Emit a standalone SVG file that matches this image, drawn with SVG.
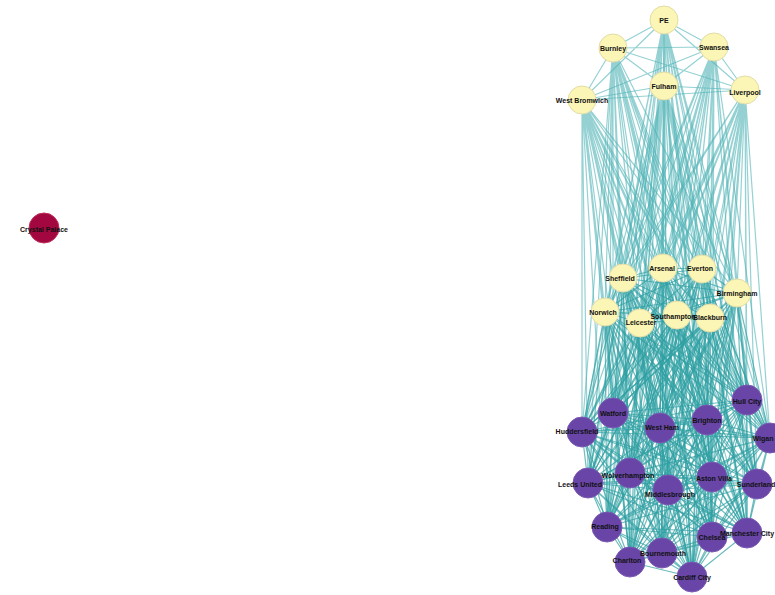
<svg xmlns="http://www.w3.org/2000/svg" width="775" height="595" viewBox="0 0 775 595">
<style>
.e{fill:none;stroke:#2f9fa2;stroke-width:1.2;stroke-opacity:.7}
.et{fill:none;stroke:#4fb3b6;stroke-width:1.2;stroke-opacity:.6}
.y{fill:#fbf6b6;stroke:#e2dca8;stroke-width:1}
.p{fill:#6845a6;stroke:#7a5ab4;stroke-width:1}
.r{fill:#a3073f;stroke:#c0305c;stroke-width:1}
text{font-family:"Liberation Sans",Arial,sans-serif;font-size:7px;font-weight:bold;fill:#111;text-anchor:middle;dominant-baseline:central}
</style>
<rect width="775" height="595" fill="#fff"/>
<g id="connectors">
<path class="et" d="M664 20L613 48M664 20L714 47M664 20L664 86M664 20L582 100M664 20L745 90M613 48L714 47M613 48L664 86M613 48L582 100M613 48L745 90M714 47L664 86M714 47L745 90M714 47L582 100M664 86L582 100M664 86L745 90M582 100L745 90"/>
<path class="et" d="M664 20L623 278M664 20L663 268M664 20L702 269M664 20L737 293M664 20L605 312M664 20L640 323M664 20L677 315M664 20L710 318M664 20L613 413M664 20L582 432M664 20L660 428M664 20L707 420M664 20L747 400M664 20L770 438M664 20L588 483M664 20L630 473M664 20L668 490M664 20L712 477M664 20L757 484M664 20L607 527M664 20L712 537M664 20L747 533M664 20L630 562M664 20L662 553M664 20L692 577"/>
<path class="et" d="M613 48L623 278M613 48L663 268M613 48L702 269M613 48L737 293M613 48L605 312M613 48L640 323M613 48L677 315M613 48L710 318M613 48L613 413M613 48L582 432M613 48L660 428M613 48L707 420M613 48L747 400M613 48L770 438M613 48L588 483M613 48L630 473M613 48L668 490M613 48L712 477M613 48L757 484M613 48L607 527M613 48L712 537M613 48L747 533M613 48L630 562M613 48L662 553M613 48L692 577"/>
<path class="et" d="M714 47L623 278M714 47L663 268M714 47L702 269M714 47L737 293M714 47L605 312M714 47L640 323M714 47L677 315M714 47L710 318M714 47L613 413M714 47L582 432M714 47L660 428M714 47L707 420M714 47L747 400M714 47L770 438M714 47L588 483M714 47L630 473M714 47L668 490M714 47L712 477M714 47L757 484M714 47L607 527M714 47L712 537M714 47L747 533M714 47L630 562M714 47L662 553M714 47L692 577"/>
<path class="et" d="M664 86L623 278M664 86L663 268M664 86L702 269M664 86L737 293M664 86L605 312M664 86L640 323M664 86L677 315M664 86L710 318M664 86L613 413M664 86L582 432M664 86L660 428M664 86L707 420M664 86L747 400M664 86L770 438M664 86L588 483M664 86L630 473M664 86L668 490M664 86L712 477M664 86L757 484M664 86L607 527M664 86L712 537M664 86L747 533M664 86L630 562M664 86L662 553M664 86L692 577"/>
<path class="et" d="M582 100L623 278M582 100L663 268M582 100L702 269M582 100L737 293M582 100L605 312M582 100L640 323M582 100L677 315M582 100L710 318M582 100L613 413M582 100L582 432M582 100L660 428M582 100L707 420M582 100L747 400M582 100L770 438M582 100L588 483M582 100L630 473M582 100L668 490M582 100L712 477M582 100L757 484M582 100L607 527M582 100L712 537M582 100L747 533M582 100L630 562M582 100L662 553M582 100L692 577"/>
<path class="et" d="M745 90L623 278M745 90L663 268M745 90L702 269M745 90L737 293M745 90L605 312M745 90L640 323M745 90L677 315M745 90L710 318M745 90L613 413M745 90L582 432M745 90L660 428M745 90L707 420M745 90L747 400M745 90L770 438M745 90L588 483M745 90L630 473M745 90L668 490M745 90L712 477M745 90L757 484M745 90L607 527M745 90L712 537M745 90L747 533M745 90L630 562M745 90L662 553M745 90L692 577"/>
<path class="e" d="M623 278L663 268M623 278L702 269M623 278L737 293M623 278L605 312M623 278L640 323M623 278L677 315M623 278L710 318M623 278L613 413M623 278L582 432M623 278L660 428M623 278L707 420M623 278L747 400M623 278L770 438M623 278L588 483M623 278L630 473M623 278L668 490M623 278L712 477M623 278L757 484M623 278L607 527M623 278L712 537M623 278L747 533M623 278L630 562M623 278L662 553M623 278L692 577"/>
<path class="e" d="M663 268L702 269M663 268L737 293M663 268L605 312M663 268L640 323M663 268L677 315M663 268L710 318M663 268L613 413M663 268L582 432M663 268L660 428M663 268L707 420M663 268L747 400M663 268L770 438M663 268L588 483M663 268L630 473M663 268L668 490M663 268L712 477M663 268L757 484M663 268L607 527M663 268L712 537M663 268L747 533M663 268L630 562M663 268L662 553M663 268L692 577"/>
<path class="e" d="M702 269L737 293M702 269L605 312M702 269L640 323M702 269L677 315M702 269L710 318M702 269L613 413M702 269L582 432M702 269L660 428M702 269L707 420M702 269L747 400M702 269L770 438M702 269L588 483M702 269L630 473M702 269L668 490M702 269L712 477M702 269L757 484M702 269L607 527M702 269L712 537M702 269L747 533M702 269L630 562M702 269L662 553M702 269L692 577"/>
<path class="e" d="M737 293L605 312M737 293L640 323M737 293L677 315M737 293L710 318M737 293L613 413M737 293L582 432M737 293L660 428M737 293L707 420M737 293L747 400M737 293L770 438M737 293L588 483M737 293L630 473M737 293L668 490M737 293L712 477M737 293L757 484M737 293L607 527M737 293L712 537M737 293L747 533M737 293L630 562M737 293L662 553M737 293L692 577"/>
<path class="e" d="M605 312L640 323M605 312L677 315M605 312L710 318M605 312L613 413M605 312L582 432M605 312L660 428M605 312L707 420M605 312L747 400M605 312L770 438M605 312L588 483M605 312L630 473M605 312L668 490M605 312L712 477M605 312L757 484M605 312L607 527M605 312L712 537M605 312L747 533M605 312L630 562M605 312L662 553M605 312L692 577"/>
<path class="e" d="M640 323L677 315M640 323L710 318M640 323L613 413M640 323L582 432M640 323L660 428M640 323L707 420M640 323L747 400M640 323L770 438M640 323L588 483M640 323L630 473M640 323L668 490M640 323L712 477M640 323L757 484M640 323L607 527M640 323L712 537M640 323L747 533M640 323L630 562M640 323L662 553M640 323L692 577"/>
<path class="e" d="M677 315L710 318M677 315L613 413M677 315L582 432M677 315L660 428M677 315L707 420M677 315L747 400M677 315L770 438M677 315L588 483M677 315L630 473M677 315L668 490M677 315L712 477M677 315L757 484M677 315L607 527M677 315L712 537M677 315L747 533M677 315L630 562M677 315L662 553M677 315L692 577"/>
<path class="e" d="M710 318L613 413M710 318L582 432M710 318L660 428M710 318L707 420M710 318L747 400M710 318L770 438M710 318L588 483M710 318L630 473M710 318L668 490M710 318L712 477M710 318L757 484M710 318L607 527M710 318L712 537M710 318L747 533M710 318L630 562M710 318L662 553M710 318L692 577"/>
<path class="e" d="M613 413L582 432M613 413L660 428M613 413L707 420M613 413L747 400M613 413L770 438M613 413L588 483M613 413L630 473M613 413L668 490M613 413L712 477M613 413L757 484M613 413L607 527M613 413L712 537M613 413L747 533M613 413L630 562M613 413L662 553M613 413L692 577"/>
<path class="e" d="M582 432L660 428M582 432L707 420M582 432L747 400M582 432L770 438M582 432L588 483M582 432L630 473M582 432L668 490M582 432L712 477M582 432L757 484M582 432L607 527M582 432L712 537M582 432L747 533M582 432L630 562M582 432L662 553M582 432L692 577"/>
<path class="e" d="M660 428L707 420M660 428L747 400M660 428L770 438M660 428L588 483M660 428L630 473M660 428L668 490M660 428L712 477M660 428L757 484M660 428L607 527M660 428L712 537M660 428L747 533M660 428L630 562M660 428L662 553M660 428L692 577"/>
<path class="e" d="M707 420L747 400M707 420L770 438M707 420L588 483M707 420L630 473M707 420L668 490M707 420L712 477M707 420L757 484M707 420L607 527M707 420L712 537M707 420L747 533M707 420L630 562M707 420L662 553M707 420L692 577"/>
<path class="e" d="M747 400L770 438M747 400L588 483M747 400L630 473M747 400L668 490M747 400L712 477M747 400L757 484M747 400L607 527M747 400L712 537M747 400L747 533M747 400L630 562M747 400L662 553M747 400L692 577"/>
<path class="e" d="M770 438L588 483M770 438L630 473M770 438L668 490M770 438L712 477M770 438L757 484M770 438L607 527M770 438L712 537M770 438L747 533M770 438L630 562M770 438L662 553M770 438L692 577"/>
<path class="e" d="M588 483L630 473M588 483L668 490M588 483L712 477M588 483L757 484M588 483L607 527M588 483L712 537M588 483L747 533M588 483L630 562M588 483L662 553M588 483L692 577"/>
<path class="e" d="M630 473L668 490M630 473L712 477M630 473L757 484M630 473L607 527M630 473L712 537M630 473L747 533M630 473L630 562M630 473L662 553M630 473L692 577"/>
<path class="e" d="M668 490L712 477M668 490L757 484M668 490L607 527M668 490L712 537M668 490L747 533M668 490L630 562M668 490L662 553M668 490L692 577"/>
<path class="e" d="M712 477L757 484M712 477L607 527M712 477L712 537M712 477L747 533M712 477L630 562M712 477L662 553M712 477L692 577"/>
<path class="e" d="M757 484L607 527M757 484L712 537M757 484L747 533M757 484L630 562M757 484L662 553M757 484L692 577"/>
<path class="e" d="M607 527L712 537M607 527L747 533M607 527L630 562M607 527L662 553M607 527L692 577M712 537L747 533M712 537L630 562M712 537L662 553M712 537L692 577M747 533L630 562M747 533L662 553M747 533L692 577M630 562L662 553M630 562L692 577M662 553L692 577"/>
</g>
<g id="node-crystal-palace"><circle class="r" cx="44" cy="228" r="15"/><text x="44" y="229">Crystal Palace</text></g>
<g id="node-pe"><circle class="y" cx="664" cy="20" r="14"/><text x="664" y="20">PE</text></g>
<g id="node-burnley"><circle class="y" cx="613" cy="48" r="14"/><text x="613" y="48">Burnley</text></g>
<g id="node-swansea"><circle class="y" cx="714" cy="47" r="14"/><text x="714" y="47">Swansea</text></g>
<g id="node-fulham"><circle class="y" cx="664" cy="86" r="14"/><text x="664" y="86">Fulham</text></g>
<g id="node-west-bromwich"><circle class="y" cx="582" cy="100" r="14"/><text x="582" y="100">West Bromwich</text></g>
<g id="node-liverpool"><circle class="y" cx="745" cy="90" r="14"/><text x="745" y="92">Liverpool</text></g>
<g id="node-sheffield"><circle class="y" cx="623" cy="278" r="14"/><text x="620" y="278">Sheffield</text></g>
<g id="node-arsenal"><circle class="y" cx="663" cy="268" r="14"/><text x="662" y="268">Arsenal</text></g>
<g id="node-everton"><circle class="y" cx="702" cy="269" r="14"/><text x="700" y="268">Everton</text></g>
<g id="node-birmingham"><circle class="y" cx="737" cy="293" r="14"/><text x="737" y="293">Birmingham</text></g>
<g id="node-norwich"><circle class="y" cx="605" cy="312" r="14"/><text x="603" y="312">Norwich</text></g>
<g id="node-leicester"><circle class="y" cx="640" cy="323" r="14"/><text x="641" y="322">Leicester</text></g>
<g id="node-southampton"><circle class="y" cx="677" cy="315" r="14"/><text x="673" y="316">Southampton</text></g>
<g id="node-blackburn"><circle class="y" cx="710" cy="318" r="14"/><text x="710" y="317">Blackburn</text></g>
<g id="node-watford"><circle class="p" cx="613" cy="413" r="15"/><text x="613" y="413">Watford</text></g>
<g id="node-huddersfield"><circle class="p" cx="582" cy="432" r="15"/><text x="577" y="431">Huddersfield</text></g>
<g id="node-west-ham"><circle class="p" cx="660" cy="428" r="15"/><text x="662" y="427">West Ham</text></g>
<g id="node-brighton"><circle class="p" cx="707" cy="420" r="15"/><text x="707" y="420">Brighton</text></g>
<g id="node-hull-city"><circle class="p" cx="747" cy="400" r="15"/><text x="747" y="401">Hull City</text></g>
<g id="node-wigan"><circle class="p" cx="770" cy="438" r="15"/><text x="763" y="438">Wigan</text></g>
<g id="node-leeds"><circle class="p" cx="588" cy="483" r="15"/><text x="580" y="484">Leeds United</text></g>
<g id="node-wolverhampton"><circle class="p" cx="630" cy="473" r="15"/><text x="628" y="475">Wolverhampton</text></g>
<g id="node-middlesbrough"><circle class="p" cx="668" cy="490" r="15"/><text x="670" y="494">Middlesbrough</text></g>
<g id="node-aston-villa"><circle class="p" cx="712" cy="477" r="15"/><text x="714" y="478">Aston Villa</text></g>
<g id="node-sunderland"><circle class="p" cx="757" cy="484" r="15"/><text x="756" y="484">Sunderland</text></g>
<g id="node-reading"><circle class="p" cx="607" cy="527" r="15"/><text x="605" y="526">Reading</text></g>
<g id="node-chelsea"><circle class="p" cx="712" cy="537" r="15"/><text x="712" y="537">Chelsea</text></g>
<g id="node-manchester-city"><circle class="p" cx="747" cy="533" r="15"/><text x="747" y="533">Manchester City</text></g>
<g id="node-charlton"><circle class="p" cx="630" cy="562" r="15"/><text x="627" y="560">Charlton</text></g>
<g id="node-bournemouth"><circle class="p" cx="662" cy="553" r="15"/><text x="663" y="553">Bournemouth</text></g>
<g id="node-cardiff-city"><circle class="p" cx="692" cy="577" r="15"/><text x="692" y="577">Cardiff City</text></g>
</svg>
